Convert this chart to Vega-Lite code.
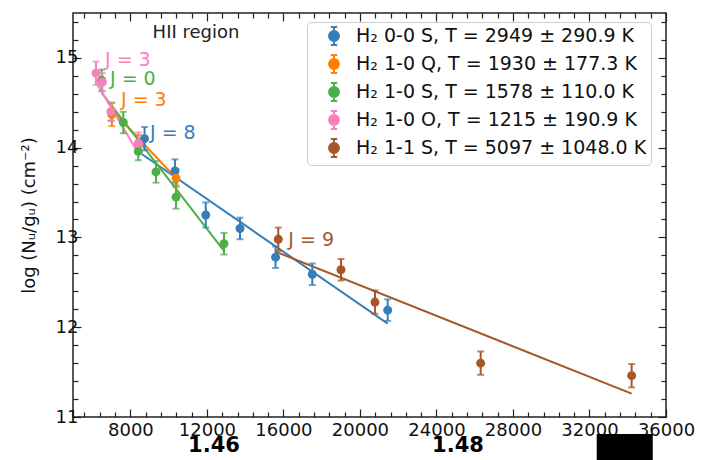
{
  "$schema": "https://vega.github.io/schema/vega-lite/v6.json",
  "width": 593,
  "height": 404,
  "autosize": "none",
  "padding": {"left": 73, "top": 13, "right": 36, "bottom": 43},
  "background": "white",
  "datasets": {
    "pts": [
      {"s": "H₂ 0-0 S, T = 2949 ± 290.9 K", "x": 8740, "y": 14.10, "lo": 13.97, "hi": 14.23},
      {"s": "H₂ 0-0 S, T = 2949 ± 290.9 K", "x": 10330, "y": 13.74, "lo": 13.61, "hi": 13.87},
      {"s": "H₂ 0-0 S, T = 2949 ± 290.9 K", "x": 11940, "y": 13.25, "lo": 13.11, "hi": 13.39},
      {"s": "H₂ 0-0 S, T = 2949 ± 290.9 K", "x": 13730, "y": 13.10, "lo": 12.98, "hi": 13.22},
      {"s": "H₂ 0-0 S, T = 2949 ± 290.9 K", "x": 15590, "y": 12.78, "lo": 12.66, "hi": 12.90},
      {"s": "H₂ 0-0 S, T = 2949 ± 290.9 K", "x": 17510, "y": 12.59, "lo": 12.47, "hi": 12.71},
      {"s": "H₂ 0-0 S, T = 2949 ± 290.9 K", "x": 21450, "y": 12.19, "lo": 12.07, "hi": 12.31},
      {"s": "H₂ 1-0 Q, T = 1930 ± 177.3 K", "x": 7030, "y": 14.37, "lo": 14.24, "hi": 14.50},
      {"s": "H₂ 1-0 Q, T = 1930 ± 177.3 K", "x": 8420, "y": 14.04, "lo": 13.94, "hi": 14.14},
      {"s": "H₂ 1-0 Q, T = 1930 ± 177.3 K", "x": 10390, "y": 13.66, "lo": 13.56, "hi": 13.76},
      {"s": "H₂ 1-0 S, T = 1578 ± 110.0 K", "x": 6500, "y": 14.75, "lo": 14.63, "hi": 14.87},
      {"s": "H₂ 1-0 S, T = 1578 ± 110.0 K", "x": 7000, "y": 14.40, "lo": 14.30, "hi": 14.50},
      {"s": "H₂ 1-0 S, T = 1578 ± 110.0 K", "x": 7630, "y": 14.28, "lo": 14.16, "hi": 14.40},
      {"s": "H₂ 1-0 S, T = 1578 ± 110.0 K", "x": 8414, "y": 13.96, "lo": 13.86, "hi": 14.06},
      {"s": "H₂ 1-0 S, T = 1578 ± 110.0 K", "x": 9338, "y": 13.73, "lo": 13.61, "hi": 13.85},
      {"s": "H₂ 1-0 S, T = 1578 ± 110.0 K", "x": 10384, "y": 13.45, "lo": 13.32, "hi": 13.58},
      {"s": "H₂ 1-0 S, T = 1578 ± 110.0 K", "x": 12893, "y": 12.93, "lo": 12.81, "hi": 13.05},
      {"s": "H₂ 1-0 O, T = 1215 ± 190.9 K", "x": 6202, "y": 14.83, "lo": 14.70, "hi": 14.96},
      {"s": "H₂ 1-0 O, T = 1215 ± 190.9 K", "x": 6532, "y": 14.73, "lo": 14.63, "hi": 14.83},
      {"s": "H₂ 1-0 O, T = 1215 ± 190.9 K", "x": 6986, "y": 14.40, "lo": 14.30, "hi": 14.50},
      {"s": "H₂ 1-0 O, T = 1215 ± 190.9 K", "x": 8414, "y": 14.05, "lo": 13.93, "hi": 14.17},
      {"s": "H₂ 1-1 S, T = 5097 ± 1048.0 K", "x": 15731, "y": 12.98, "lo": 12.85, "hi": 13.11},
      {"s": "H₂ 1-1 S, T = 5097 ± 1048.0 K", "x": 19009, "y": 12.64, "lo": 12.52, "hi": 12.76},
      {"s": "H₂ 1-1 S, T = 5097 ± 1048.0 K", "x": 20785, "y": 12.28, "lo": 12.15, "hi": 12.41},
      {"s": "H₂ 1-1 S, T = 5097 ± 1048.0 K", "x": 26311, "y": 11.60, "lo": 11.47, "hi": 11.73},
      {"s": "H₂ 1-1 S, T = 5097 ± 1048.0 K", "x": 34204, "y": 11.46, "lo": 11.33, "hi": 11.59}
    ],
    "fits": [
      {"s": "H₂ 0-0 S, T = 2949 ± 290.9 K", "x": 8590, "y": 13.93},
      {"s": "H₂ 0-0 S, T = 2949 ± 290.9 K", "x": 21450, "y": 12.04},
      {"s": "H₂ 1-0 Q, T = 1930 ± 177.3 K", "x": 7030, "y": 14.42},
      {"s": "H₂ 1-0 Q, T = 1930 ± 177.3 K", "x": 10390, "y": 13.66},
      {"s": "H₂ 1-0 S, T = 1578 ± 110.0 K", "x": 6500, "y": 14.61},
      {"s": "H₂ 1-0 S, T = 1578 ± 110.0 K", "x": 12893, "y": 12.85},
      {"s": "H₂ 1-0 O, T = 1215 ± 190.9 K", "x": 6202, "y": 14.73},
      {"s": "H₂ 1-0 O, T = 1215 ± 190.9 K", "x": 8414, "y": 13.94},
      {"s": "H₂ 1-1 S, T = 5097 ± 1048.0 K", "x": 15612, "y": 12.84},
      {"s": "H₂ 1-1 S, T = 5097 ± 1048.0 K", "x": 34204, "y": 11.26}
    ],
    "jl": [
      {"s": "H₂ 1-0 O, T = 1215 ± 190.9 K", "x": 6673, "y": 14.98, "t": "J = 3"},
      {"s": "H₂ 1-0 S, T = 1578 ± 110.0 K", "x": 6934, "y": 14.77, "t": "J = 0"},
      {"s": "H₂ 1-0 Q, T = 1930 ± 177.3 K", "x": 7510, "y": 14.53, "t": "J = 3"},
      {"s": "H₂ 0-0 S, T = 2949 ± 290.9 K", "x": 9025, "y": 14.16, "t": "J = 8"},
      {"s": "H₂ 1-1 S, T = 5097 ± 1048.0 K", "x": 16255, "y": 12.97, "t": "J = 9"}
    ]
  },
  "layer": [
    {
      "data": {"name": "fits"},
      "mark": {"type": "line", "strokeWidth": 2},
      "encoding": {
        "x": {"field": "x", "type": "quantitative", "scale": {"domain": [5000, 36000], "nice": false, "zero": false},
          "axis": {"orient": "bottom", "title": null, "format": "d",
            "values": [8000, 12000, 16000, 20000, 24000, 28000, 32000, 36000],
            "tickSize": -8, "labelPadding": 12, "labelOverlap": false, "labelFlush": false, "labelBound": false}},
        "y": {"field": "y", "type": "quantitative", "scale": {"domain": [11, 15.5], "nice": false, "zero": false},
          "axis": {"orient": "left", "title": "log (Nᵤ/gᵤ) (cm⁻²)", "format": "d",
            "values": [11, 12, 13, 14, 15],
            "tickSize": -8, "labelPadding": 3, "titlePadding": 17, "labelOverlap": false, "labelFlush": false, "labelBound": false}},
        "color": {"field": "s", "type": "nominal"},
        "detail": {"field": "s"}
      }
    },
    {
      "data": {"name": "pts"},
      "mark": {"type": "rule", "strokeWidth": 2},
      "encoding": {
        "x": {"field": "x", "type": "quantitative",
          "axis": {"orient": "bottom", "title": null, "labels": false,
            "values": [5600, 6400, 7200, 8800, 9600, 10400, 11200, 12800, 13600, 14400, 15200, 16800, 17600, 18400, 19200, 20800, 21600, 22400, 23200, 24800, 25600, 26400, 27200, 28800, 29600, 30400, 31200, 32800, 33600, 34400, 35200],
            "tickSize": -5}},
        "y": {"field": "lo", "type": "quantitative",
          "axis": {"orient": "left", "title": null, "labels": false,
            "values": [11.2, 11.4, 11.6, 11.8, 12.2, 12.4, 12.6, 12.8, 13.2, 13.4, 13.6, 13.8, 14.2, 14.4, 14.6, 14.8, 15.2, 15.4],
            "tickSize": -5}},
        "y2": {"field": "hi"},
        "color": {"field": "s", "type": "nominal"}
      }
    },
    {
      "data": {"name": "pts"},
      "mark": {"type": "tick", "orient": "horizontal", "size": 7, "thickness": 2},
      "encoding": {
        "x": {"field": "x", "type": "quantitative", "axis": null},
        "y": {"field": "lo", "type": "quantitative", "axis": null},
        "color": {"field": "s", "type": "nominal"}
      }
    },
    {
      "data": {"name": "pts"},
      "mark": {"type": "tick", "orient": "horizontal", "size": 7, "thickness": 2},
      "encoding": {
        "x": {"field": "x", "type": "quantitative", "axis": null},
        "y": {"field": "hi", "type": "quantitative", "axis": null},
        "color": {"field": "s", "type": "nominal"}
      }
    },
    {
      "data": {"name": "pts"},
      "mark": {"type": "point", "filled": true, "shape": "circle", "size": 80, "opacity": 1},
      "encoding": {
        "x": {"field": "x", "type": "quantitative",
          "axis": {"orient": "top", "title": null, "labels": false,
            "values": [8000, 12000, 16000, 20000, 24000, 28000, 32000, 36000],
            "tickSize": -8}},
        "y": {"field": "y", "type": "quantitative",
          "axis": {"orient": "right", "title": null, "labels": false,
            "values": [11, 12, 13, 14, 15],
            "tickSize": -8}},
        "color": {"field": "s", "type": "nominal",
          "scale": {"domain": ["H₂ 0-0 S, T = 2949 ± 290.9 K", "H₂ 1-0 Q, T = 1930 ± 177.3 K", "H₂ 1-0 S, T = 1578 ± 110.0 K", "H₂ 1-0 O, T = 1215 ± 190.9 K", "H₂ 1-1 S, T = 5097 ± 1048.0 K"],
            "range": ["#377eb8", "#ff7f00", "#4daf4a", "#f781bf", "#a65628"]},
          "legend": {"title": null, "symbolOpacity": 1,
            "encode": {"symbols": {"update": {"stroke": {"scale": "color", "field": "value"}, "fill": {"scale": "color", "field": "value"}, "strokeWidth": {"value": 2}, "opacity": {"value": 1}, "fillOpacity": {"value": 1}, "strokeOpacity": {"value": 1}}}}}}
      }
    },
    {
      "data": {"name": "jl"},
      "mark": {"type": "text", "align": "left", "baseline": "middle", "fontSize": 19, "font": "DejaVu Sans"},
      "encoding": {
        "x": {"field": "x", "type": "quantitative",
          "axis": {"orient": "top", "title": null, "labels": false,
            "values": [5600, 6400, 7200, 8800, 9600, 10400, 11200, 12800, 13600, 14400, 15200, 16800, 17600, 18400, 19200, 20800, 21600, 22400, 23200, 24800, 25600, 26400, 27200, 28800, 29600, 30400, 31200, 32800, 33600, 34400, 35200],
            "tickSize": -5}},
        "y": {"field": "y", "type": "quantitative",
          "axis": {"orient": "right", "title": null, "labels": false,
            "values": [11.2, 11.4, 11.6, 11.8, 12.2, 12.4, 12.6, 12.8, 13.2, 13.4, 13.6, 13.8, 14.2, 14.4, 14.6, 14.8, 15.2, 15.4],
            "tickSize": -5}},
        "text": {"field": "t"},
        "color": {"field": "s", "type": "nominal"}
      }
    },
    {
      "data": {"values": [{"x": 11430, "y": 15.28, "t": "HII region"}]},
      "mark": {"type": "text", "align": "center", "baseline": "middle", "fontSize": 18, "font": "DejaVu Sans", "color": "#222"},
      "encoding": {
        "x": {"field": "x", "type": "quantitative", "axis": null},
        "y": {"field": "y", "type": "quantitative", "axis": null},
        "text": {"field": "t"}
      }
    },
    {
      "data": {"values": [{"x": 12371, "y": 10.68, "t": "1.46"}, {"x": 25128, "y": 10.68, "t": "1.48"}]},
      "mark": {"type": "text", "align": "center", "baseline": "middle", "fontSize": 21, "fontWeight": "bold", "font": "DejaVu Sans", "color": "#000", "clip": false},
      "encoding": {
        "x": {"field": "x", "type": "quantitative", "axis": null},
        "y": {"field": "y", "type": "quantitative", "axis": null},
        "text": {"field": "t"}
      }
    },
    {
      "data": {"values": [{"x": 32378, "x2": 35307, "y": 10.81, "y2": 10.4}]},
      "mark": {"type": "rect", "color": "#000", "clip": false},
      "encoding": {
        "x": {"field": "x", "type": "quantitative", "axis": null},
        "x2": {"field": "x2"},
        "y": {"field": "y", "type": "quantitative", "axis": null},
        "y2": {"field": "y2"}
      }
    }
  ],
  "resolve": {"axis": {"x": "independent", "y": "independent"}},
  "config": {
    "font": "DejaVu Sans",
    "view": {"stroke": "#222", "strokeWidth": 1.5},
    "axis": {"grid": false, "domain": false, "tickColor": "#222", "tickWidth": 1.2,
      "labelColor": "#111", "labelFontSize": 18, "labelFont": "DejaVu Sans",
      "titleFont": "DejaVu Sans", "titleFontSize": 18, "titleFontWeight": "normal", "titleColor": "#111"},
    "legend": {"orient": "none", "legendX": 234, "legendY": 9, "fillColor": "white", "strokeColor": "#cccccc",
      "cornerRadius": 4, "padding": 4, "labelFontSize": 19, "labelFont": "DejaVu Sans", "labelColor": "#111",
      "symbolType": "M-0.35,-1L0.35,-1M0,-1L0,1M-0.35,1L0.35,1M0.55,0A0.55,0.55,0,1,1,-0.55,0A0.55,0.55,0,1,1,0.55,0Z",
      "symbolSize": 324, "symbolStrokeWidth": 2, "symbolOpacity": 1, "rowPadding": 2, "labelOffset": 12, "symbolOffset": 13, "labelLimit": 400}
  }
}
